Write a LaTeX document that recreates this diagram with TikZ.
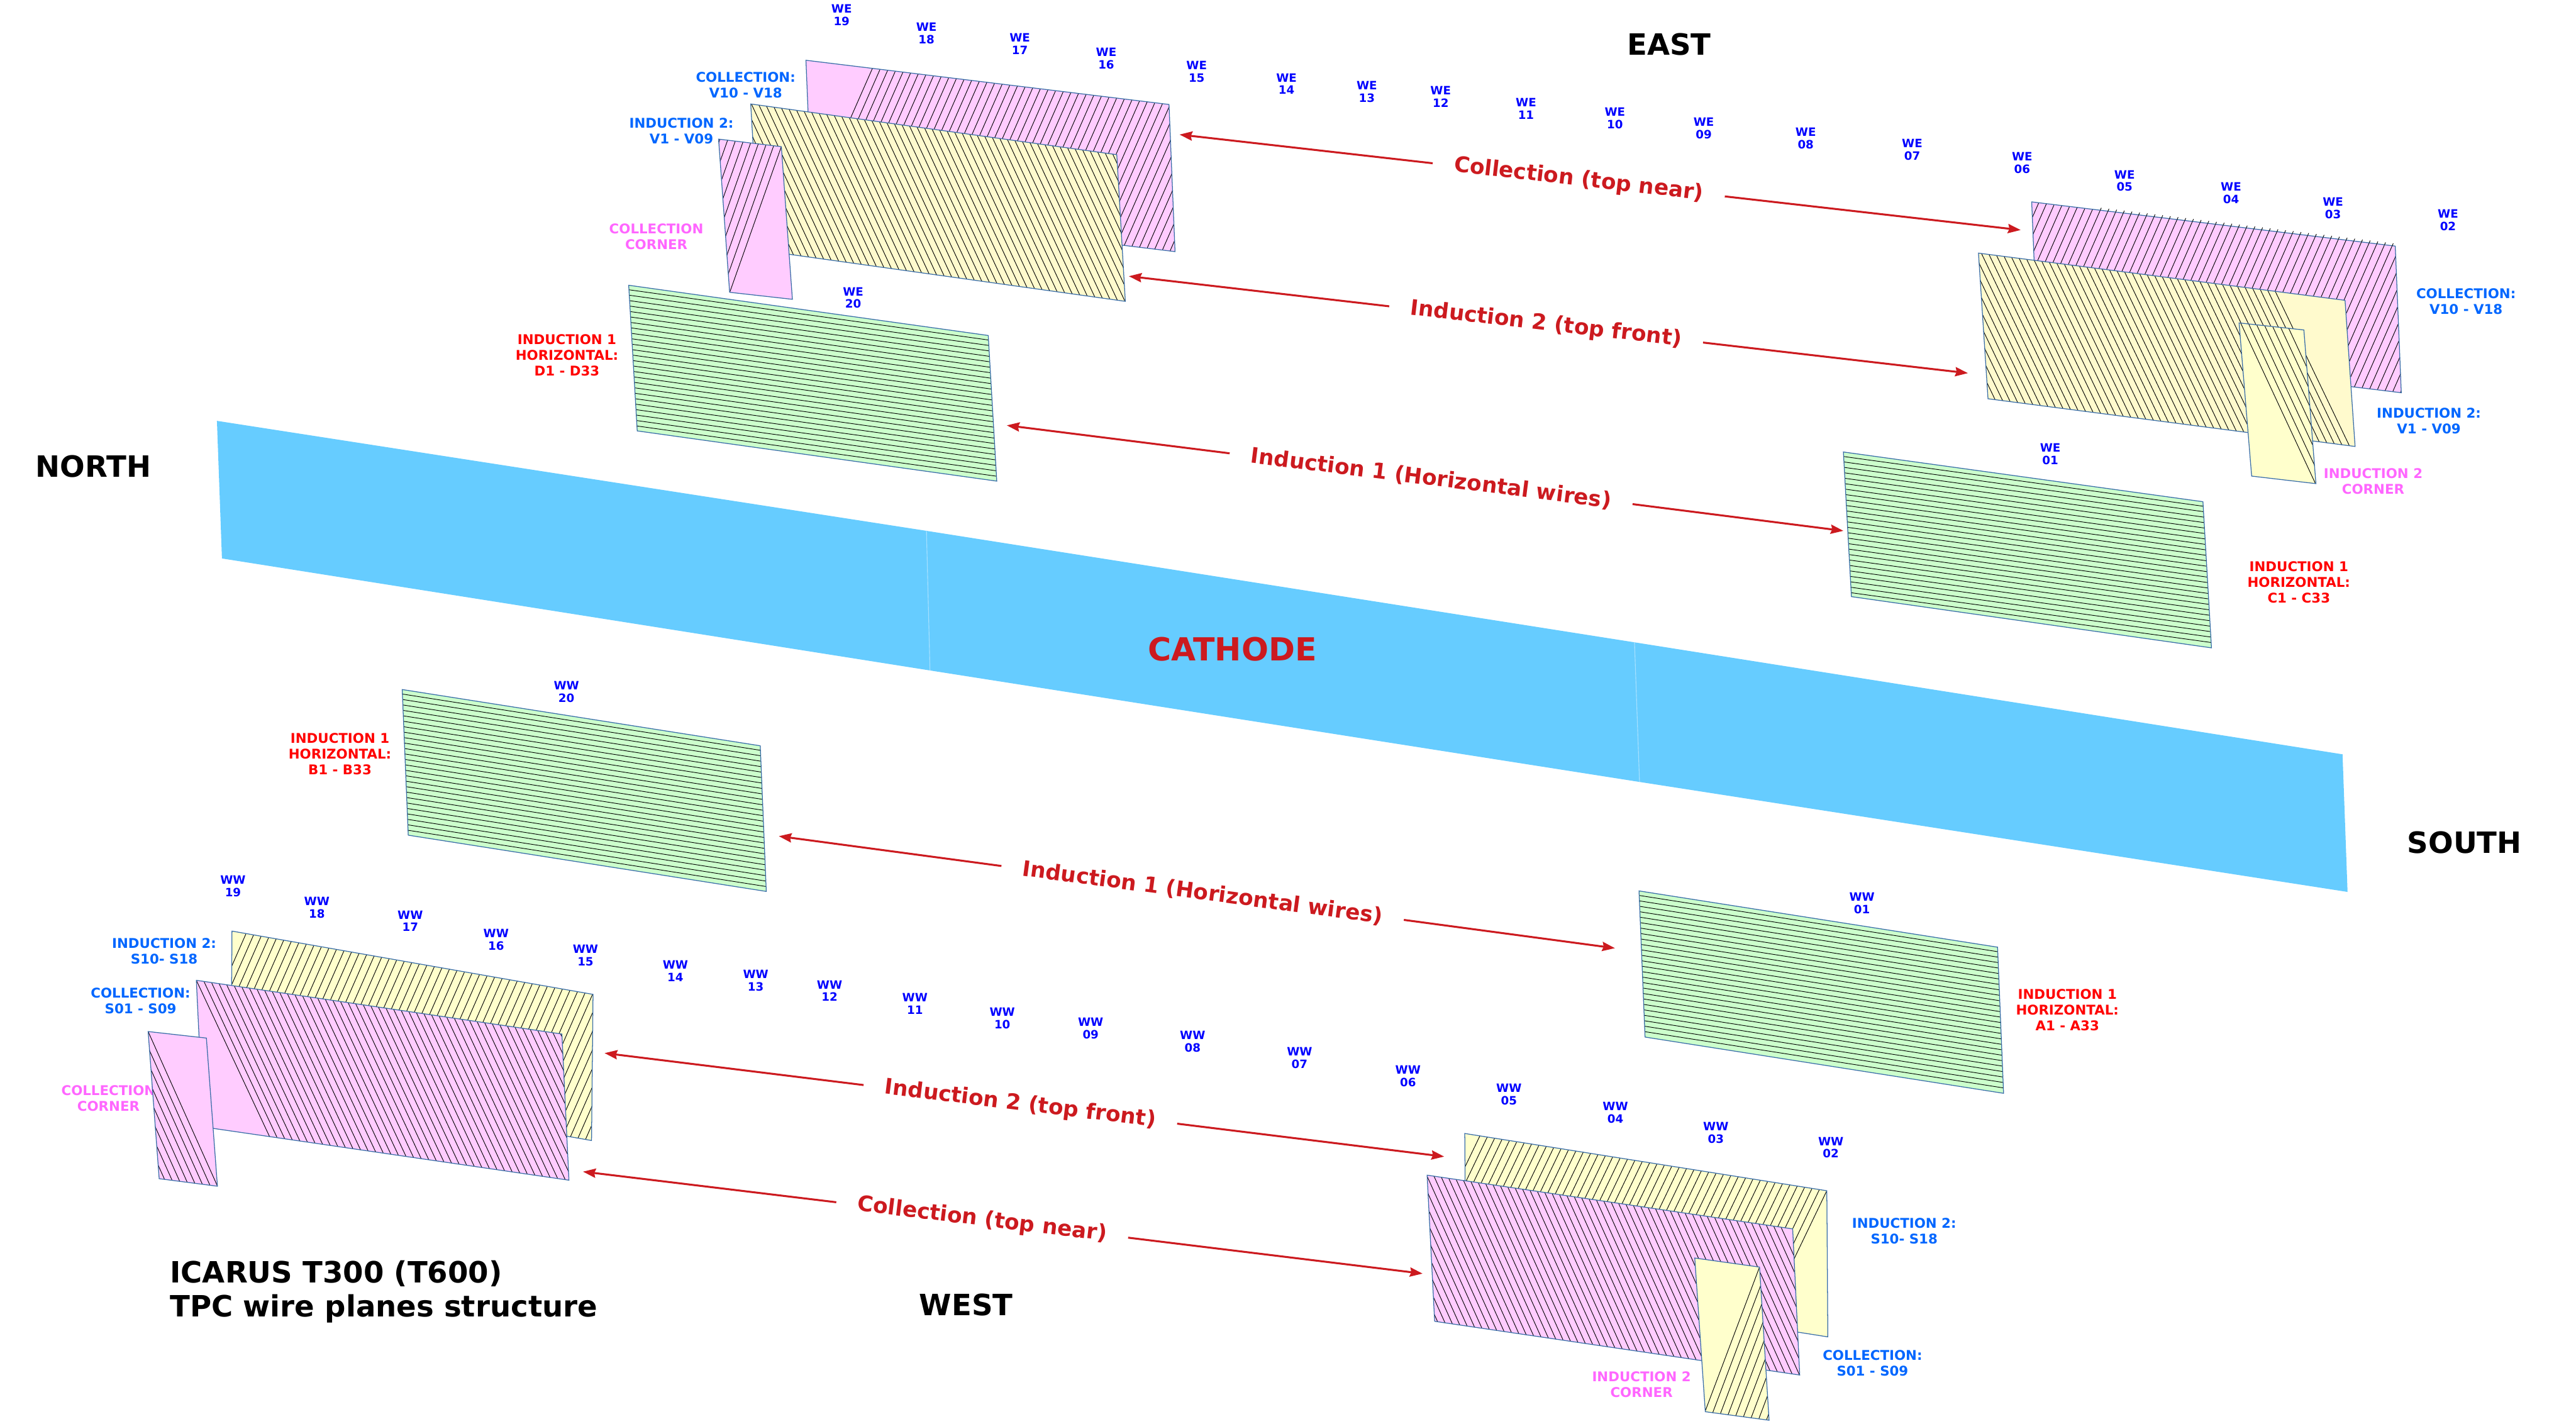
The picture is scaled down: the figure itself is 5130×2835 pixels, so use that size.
\documentclass[tikz,border=0pt]{standalone}
\usepackage{fontspec}
\setmainfont{DejaVu Sans}
\usetikzlibrary{arrows.meta,calc}
\definecolor{pinkplane}{HTML}{FFCCFF}
\definecolor{creamplane}{HTML}{FFFACD}
\definecolor{yellowplane}{HTML}{FFFFCC}
\definecolor{greenplane}{HTML}{CCFFCC}
\definecolor{cathodeblue}{HTML}{66CCFF}
\definecolor{seamblue}{HTML}{A5E0FF}
\definecolor{edgeblue}{HTML}{3A6EA8}
\definecolor{arrowred}{HTML}{CC1A1F}
\definecolor{planeblue}{HTML}{0066FF}
\definecolor{cornerpink}{HTML}{FF66FF}
\tikzset{
wire/.style={black,line width=0.33pt},
planeedge/.style={edgeblue,line width=0.45pt},
redarrow/.style={arrowred,line width=1.1pt,-{Stealth[length=7.2pt,width=5.2pt,inset=0.8pt]}},
wirelabel/.style={text=arrowred,font=\fontsize{12.2pt}{14pt}\selectfont\bfseries,inner xsep=12pt,inner ysep=1pt},
sidelabel/.style={text=black,font=\fontsize{16.6pt}{19.2pt}\selectfont\bfseries,inner sep=0pt},
welabel/.style={text=blue,align=center,font=\fontsize{6.5pt}{7.1pt}\selectfont\bfseries,inner sep=0pt},
planelabel/.style={text=planeblue,align=center,font=\fontsize{7.6pt}{8.9pt}\selectfont\bfseries,inner sep=0pt},
cornerlabel/.style={planelabel,text=cornerpink},
horizlabel/.style={planelabel,text=red}
}
% fill, four corners, point on a wire, wire vector, step, last index
\newcommand{\wireplane}[9]{
\fill[#1] #2 -- #3 -- #4 -- #5 -- cycle;
\begin{scope}
\clip #2 -- #3 -- #4 -- #5 -- cycle;
\foreach \n in {0,...,#9}
\draw[wire] ($#6+\n*#8-#7$) -- ($#6+\n*#8+#7$);
\end{scope}
\draw[planeedge] #2 -- #3 -- #4 -- #5 -- cycle;
}
\begin{document}
\begin{tikzpicture}[x=0.01cm,y=-0.01cm]
\useasboundingbox (0,0) rectangle (5130,2835);
% cathode
\fill[cathodeblue] (432,838) -- (1845,1057) -- (1852,1335) -- (442,1112) -- cycle;
\fill[cathodeblue] (1845,1057) -- (3255,1279) -- (3265,1557) -- (1852,1335) -- cycle;
\fill[cathodeblue] (3255,1279) -- (4665,1502) -- (4675,1776) -- (3265,1557) -- cycle;
\draw[seamblue,line width=0.4pt] (1845,1057) -- (1852,1335)
(3255,1279) -- (3265,1557);
\node[text=arrowred,font=\fontsize{18pt}{20pt}\selectfont\bfseries,inner sep=0pt] (cathode) at (2454,1292) {CATHODE};
% side names
\node[sidelabel] (east) at (3324,88) {EAST};
\node[sidelabel] (north) at (186,929) {NORTH};
\node[sidelabel] (south) at (4908,1678) {SOUTH};
\node[sidelabel] (west) at (1924,2598) {WEST};
\node[sidelabel,anchor=west,align=left] (title) at (338,2572) {ICARUS T300 (T600)\\TPC wire planes structure};
% plane names
\node[planelabel] (collNE) at (1485,169) {COLLECTION:\\V10 - V18};
\node[planelabel] (indNE) at (1357,261) {INDUCTION 2:\\V1 - V09};
\node[cornerlabel] (cornNE) at (1307,471) {COLLECTION\\CORNER};
\node[horizlabel] (horNE) at (1129,707) {INDUCTION 1\\HORIZONTAL:\\D1 - D33};
\node[planelabel] (collSE) at (4911,600) {COLLECTION:\\V10 - V18};
\node[planelabel] (indSE) at (4837,838) {INDUCTION 2:\\V1 - V09};
\node[cornerlabel] (cornSE) at (4726,958) {INDUCTION 2\\CORNER};
\node[horizlabel] (horSE) at (4578,1159) {INDUCTION 1\\HORIZONTAL:\\C1 - C33};
\node[horizlabel] (horNW) at (677,1501) {INDUCTION 1\\HORIZONTAL:\\B1 - B33};
\node[planelabel] (indNW) at (327,1894) {INDUCTION 2:\\S10- S18};
\node[planelabel] (collNW) at (280,1993) {COLLECTION:\\S01 - S09};
\node[cornerlabel] (cornNW) at (216,2187) {COLLECTION\\CORNER};
\node[horizlabel] (horSW) at (4117,2011) {INDUCTION 1\\HORIZONTAL:\\A1 - A33};
\node[planelabel] (indSW) at (3792,2451) {INDUCTION 2:\\S10- S18};
\node[planelabel] (collSW) at (3729,2714) {COLLECTION:\\S01 - S09};
\node[cornerlabel] (cornSW) at (3269,2757) {INDUCTION 2\\CORNER};
% module names
\foreach \num/\px/\py in {20/1699/593,19/1676/30,18/1845/66,17/2031/87,16/2203/117,15/2383/143,14/2562/167,13/2722/183,12/2869/193,11/3039/216,10/3216/236,09/3393/255,08/3596/275,07/3808/298,06/4027/324,05/4231/360,04/4443/384,03/4646/415,02/4875/438,01/4083/904}
\node[welabel] (we\num) at (\px,\py) {WE\\\num};
\foreach \num/\px/\py in {20/1128/1378,19/464/1765,18/631/1807,17/817/1834,16/988/1871,15/1166/1902,14/1345/1934,13/1505/1953,12/1652/1973,11/1822/1999,10/1996/2028,09/2172/2048,08/2375/2074,07/2588/2107,06/2804/2143,05/3005/2179,04/3217/2216,03/3417/2255,02/3646/2285,01/3708/1798}
\node[welabel] (ww\num) at (\px,\py) {WW\\\num};
% east side, north end
\wireplane{pinkplane}{(1605,120)}{(2328,208)}{(2340,501)}{(1617,413)}{(1737,137)}{(-154,350)}{(15.2,1.85)}{49}
\wireplane{creamplane}{(1495,207)}{(2224,308)}{(2241,600)}{(1512,498)}{(2216,307)}{(163,350)}{(-15,-2.1)}{56}
\wireplane{pinkplane}{(1431,277)}{(1556,292)}{(1578,596)}{(1453,582)}{(1556,292)}{(-124,350)}{(-15.3,-1.8)}{8}
\wireplane{greenplane}{(1252,568)}{(1968,668)}{(1985,958)}{(1269,858)}{(1252.6,577)}{(716,100)}{(0.64,10.85)}{25}
% east side, south end
\wireplane{pinkplane}{(4046,402)}{(4770,490)}{(4782,782)}{(4058,694)}{(4060,404)}{(-154,350)}{(15.3,1.86)}{56}
\foreach \n in {8,...,46}
\draw[wire] ($(4060,404)+\n*(15.3,1.86)$) -- ++(2.2,-5);
\wireplane{creamplane}{(3940,504)}{(4670,598)}{(4690,889)}{(3959,794)}{(4531,580)}{(168,350)}{(-15,-1.93)}{47}
\wireplane{yellowplane}{(4459,643)}{(4588,657)}{(4612,963)}{(4484,948)}{(4463,645)}{(163,350)}{(16,1.9)}{6}
\wireplane{greenplane}{(3671,900)}{(4387,999)}{(4404,1290)}{(3687,1188)}{(3671.6,909)}{(716,99)}{(0.6,10.85)}{25}
% west side, north end
\wireplane{greenplane}{(801,1373)}{(1514,1485)}{(1526,1775)}{(813,1663)}{(801.4,1382)}{(713,112)}{(0.45,10.85)}{25}
\wireplane{yellowplane}{(462,1854)}{(1181,1980)}{(1178,2271)}{(460,2145)}{(490,1859)}{(-154,350)}{(15,2.63)}{55}
\wireplane{pinkplane}{(391,1952)}{(1119,2059)}{(1133,2350)}{(405,2244)}{(391,1952)}{(164,350)}{(15.1,2.2)}{48}
\wireplane{pinkplane}{(295,2054)}{(411,2067)}{(433,2362)}{(317,2347)}{(295,2054)}{(157,350)}{(-15,-1.8)}{8}
% west side, south end
\wireplane{greenplane}{(3264,1774)}{(3978,1886)}{(3990,2177)}{(3276,2065)}{(3264.4,1783)}{(714,112)}{(0.45,10.85)}{25}
\wireplane{yellowplane}{(2917,2257)}{(3638,2371)}{(3640,2662)}{(2919,2548)}{(2947,2262)}{(-168,350)}{(14.7,2.32)}{47}
\wireplane{pinkplane}{(2842,2340)}{(3570,2447)}{(3584,2738)}{(2857,2631)}{(3547,2444)}{(158,350)}{(-14.7,-2.15)}{56}
\wireplane{yellowplane}{(3375,2505)}{(3504,2523)}{(3523,2828)}{(3396,2811)}{(3504,2523)}{(-132,350)}{(15.4,1.8)}{8}
% arrows
\node[wirelabel,rotate=-6.5] (colE) at (3144,358) {Collection (top near)};
\node[wirelabel,rotate=-6.6] (indTwoE) at (3079,646) {Induction 2 (top front)};
\node[wirelabel,rotate=-7.2] (indOneE) at (2850,953) {Induction 1 (Horizontal wires)};
\node[wirelabel,rotate=-7.6] (indOneW) at (2395,1778) {Induction 1 (Horizontal wires)};
\node[wirelabel,rotate=-7] (indTwoW) at (2032,2199) {Induction 2 (top front)};
\node[wirelabel,rotate=-6.9] (colW) at (1956,2429) {Collection (top near)};
\coordinate (colEa) at (2349,268);
\coordinate (colEb) at (4024,458);
\coordinate (indTwoEa) at (2248,550);
\coordinate (indTwoEb) at (3919,743);
\coordinate (indOneEa) at (2005,847);
\coordinate (indOneEb) at (3671,1057);
\coordinate (indOneWa) at (1551,1665);
\coordinate (indOneWb) at (3216,1888);
\coordinate (indTwoWa) at (1204,2097);
\coordinate (indTwoWb) at (2876,2303);
\coordinate (colWa) at (1161,2333);
\coordinate (colWb) at (2833,2536);
\foreach \lab in {colE,indTwoE,indOneE,indOneW,indTwoW,colW}{
\draw[redarrow] (\lab) -- (\lab a);
\draw[redarrow] (\lab) -- (\lab b);
}
\end{tikzpicture}
\end{document}
